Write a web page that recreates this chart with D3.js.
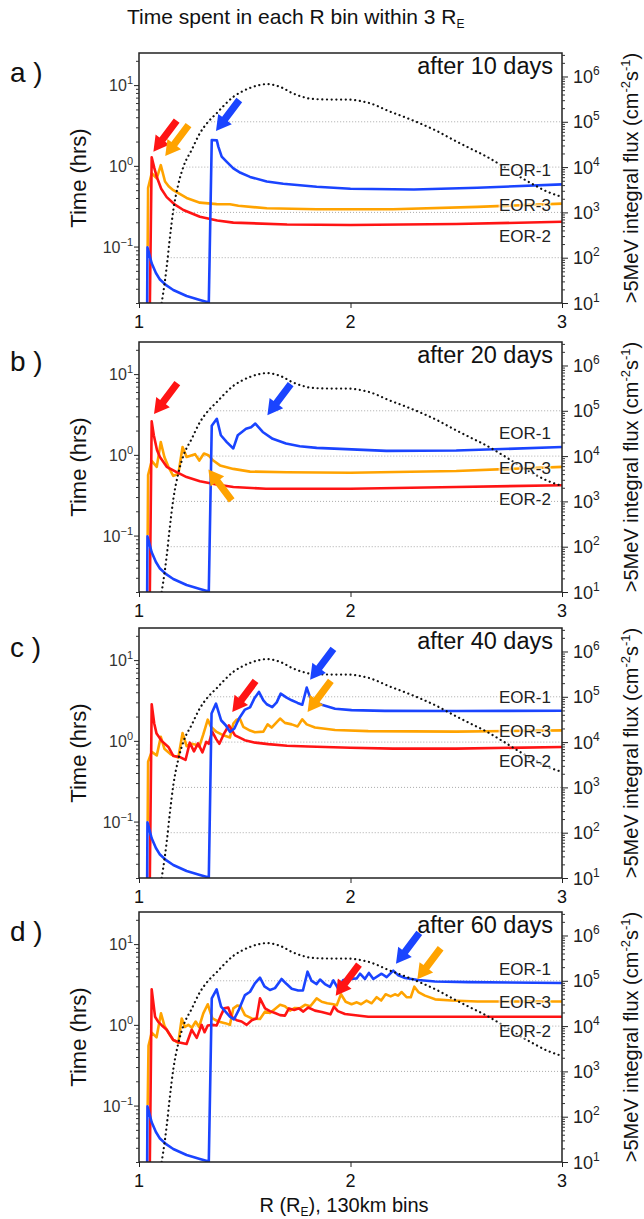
<!DOCTYPE html>
<html>
<head>
<meta charset="utf-8">
<script src="https://cdn.jsdelivr.net/npm/d3@7"></script>
<style>
body { margin: 0; background: #fff; }
svg { display: block; font-family: "Liberation Sans", Arial, sans-serif; }
</style>
</head>
<body>
<script>
// >5MeV integral flux (dotted curve), same in all panels: [R, flux]
var flux = [[1.107,10],[1.12,25],[1.131,63],[1.145,250],[1.162,1100],[1.185,4000],[1.21,1.02e4],[1.249,2.4e4],
    [1.288,5.6e4],[1.327,1.0e5],[1.367,1.54e5],[1.406,2.4e5],[1.446,3.57e5],[1.485,4.6e5],[1.525,5.6e5],
    [1.565,6.4e5],[1.604,6.8e5],[1.643,6.4e5],[1.682,5.5e5],[1.72,4.4e5],[1.761,3.7e5],[1.8,3.3e5],
    [1.84,3.15e5],[1.9,3.1e5],[1.96,3.1e5],[2.013,3.05e5],[2.05,2.85e5],[2.092,2.56e5],[2.13,2.2e5],
    [2.171,1.8e5],[2.25,1.3e5],[2.329,9.2e4],[2.41,6.2e4],[2.486,4.0e4],[2.565,2.6e4],[2.644,1.7e4],
    [2.72,1.05e4],[2.801,6.1e3],[2.87,4.0e3],[2.928,2.9e3],[3.0,2.2e3]];

// EOR-1 inner part (same in every panel): [R, hrs]
var eor1Inner = [[1.038,0.01],[1.04,0.098],[1.06,0.062],[1.08,0.047],[1.099,0.039],[1.13,0.033],[1.162,0.029],
    [1.225,0.0244],[1.288,0.0218],[1.33,0.0203]];

// after 10 days
var eor1_10 = [[1.344,2.09],[1.368,2.07],[1.375,1.73],[1.391,1.3],[1.415,1.12],[1.446,0.93],[1.48,0.82],[1.525,0.73],
    [1.604,0.64],[1.682,0.6],[1.84,0.55],[2.0,0.52],[2.3,0.51],[2.6,0.535],[3.0,0.59]];
var eor2_10 = [[1.05,0.01],[1.06,1.28],[1.072,0.95],[1.084,0.73],[1.105,0.52],[1.131,0.41],[1.17,0.33],[1.21,0.284],
    [1.288,0.234],[1.37,0.21],[1.446,0.198],[1.7,0.188],[2.0,0.185],[2.5,0.19],[3.0,0.203]];
var eor3_10 = [[1.041,0.1],[1.043,0.53],[1.06,0.81],[1.084,0.70],[1.103,1.02],[1.123,0.64],[1.14,0.56],[1.162,0.50],
    [1.225,0.40],[1.288,0.35],[1.367,0.336],[1.43,0.335],[1.47,0.32],[1.604,0.298],[1.84,0.29],[2.2,0.29],
    [2.6,0.31],[3.0,0.34]];

// after 20 days
var eor1_20 = [[1.344,2.3],[1.368,2.8],[1.387,1.75],[1.415,1.44],[1.446,1.2],[1.467,1.75],[1.506,2.1],[1.53,2.2],
    [1.55,2.44],[1.585,1.92],[1.632,1.58],[1.695,1.38],[1.76,1.28],[1.84,1.22],[2.17,1.12],[2.5,1.13],[3.0,1.25]];
var eor2_20 = [[1.05,0.01],[1.06,2.6],[1.07,1.75],[1.085,1.15],[1.099,0.94],[1.131,0.71],[1.178,0.61],[1.225,0.53],
    [1.288,0.47],[1.367,0.43],[1.446,0.40],[1.6,0.38],[2.0,0.38],[2.5,0.4],[3.0,0.42]];
var eor3_20 = [[1.041,0.1],[1.043,0.56],[1.06,0.84],[1.084,0.71],[1.103,1.44],[1.12,0.94],[1.139,0.71],[1.162,0.55],
    [1.186,0.58],[1.206,1.25],[1.225,0.94],[1.265,1.02],[1.285,0.85],[1.307,1.04],[1.328,0.99],[1.351,0.85],
    [1.383,0.74],[1.446,0.67],[1.525,0.62],[1.7,0.61],[2.0,0.6],[2.5,0.63],[3.0,0.71]];

// after 40 days
var eor1_40 = [[1.343,2.18],[1.364,2.89],[1.388,1.8],[1.41,1.56],[1.43,1.29],[1.451,1.42],[1.473,1.89],[1.501,2.44],
    [1.525,2.6],[1.545,3.34],[1.567,4.04],[1.588,3.18],[1.604,2.84],[1.63,2.62],[1.651,3.0],[1.67,3.85],
    [1.698,3.43],[1.722,3.18],[1.75,2.95],[1.772,2.8],[1.793,4.57],[1.808,3.5],[1.832,3.0],[1.864,2.8],
    [1.927,2.5],[2.005,2.4],[2.163,2.35],[2.5,2.34],[3.0,2.36]];
var eor2_40 = [[1.05,0.01],[1.06,2.84],[1.072,1.64],[1.083,1.23],[1.107,1.0],[1.139,0.84],[1.162,0.65],[1.194,0.63],
    [1.22,0.58],[1.24,0.95],[1.26,0.74],[1.279,0.93],[1.3,0.72],[1.318,0.97],[1.33,0.92],[1.346,1.3],[1.365,1.05],
    [1.38,0.92],[1.4,1.2],[1.425,1.56],[1.454,1.17],[1.5,1.02],[1.55,0.95],[1.611,0.91],[1.7,0.87],[1.8,0.85],
    [2.0,0.82],[2.2,0.8],[2.5,0.8],[3.0,0.84]];
var eor3_40 = [[1.041,0.1],[1.043,0.55],[1.06,0.73],[1.084,0.66],[1.103,1.12],[1.12,0.8],[1.15,0.68],[1.186,0.62],
    [1.206,1.25],[1.225,0.86],[1.245,0.92],[1.265,0.9],[1.285,0.85],[1.304,1.2],[1.325,1.83],[1.34,1.5],
    [1.367,1.29],[1.399,1.17],[1.43,1.1],[1.446,1.64],[1.462,1.83],[1.477,1.88],[1.493,1.49],[1.525,1.34],
    [1.548,1.28],[1.588,1.3],[1.608,1.6],[1.627,1.46],[1.667,1.89],[1.69,1.67],[1.722,1.6],[1.75,1.51],
    [1.772,1.85],[1.793,1.6],[1.832,1.46],[1.927,1.36],[2.084,1.32],[2.5,1.3],[3.0,1.35]];

// after 60 days
var eor1_60 = [[1.344,2.13],[1.367,2.75],[1.388,1.68],[1.41,1.45],[1.43,1.26],[1.449,1.17],[1.47,1.5],[1.501,2.34],
    [1.525,2.57],[1.548,3.27],[1.572,3.84],[1.593,3.0],[1.619,2.7],[1.643,2.85],[1.674,3.7],[1.698,3.2],
    [1.722,2.8],[1.753,2.66],[1.775,2.66],[1.797,4.56],[1.816,3.5],[1.84,3.2],[1.856,3.64],[1.879,3.2],
    [1.903,2.95],[1.919,3.56],[1.942,2.8],[1.966,3.6],[1.997,3.7],[2.029,3.76],[2.045,4.3],[2.068,3.7],
    [2.087,4.4],[2.108,3.7],[2.147,4.3],[2.171,3.9],[2.202,4.7],[2.226,4.1],[2.258,3.8],[2.32,3.6],[2.4,3.45],
    [2.557,3.38],[3.0,3.3]];
var eor2_60 = [[1.05,0.01],[1.06,2.75],[1.076,1.26],[1.091,1.09],[1.107,0.99],[1.131,0.87],[1.162,0.65],[1.186,0.61],
    [1.225,0.58],[1.249,0.87],[1.273,0.69],[1.296,1.0],[1.31,0.81],[1.325,0.98],[1.347,1.0],[1.367,0.98],
    [1.388,1.32],[1.403,1.6],[1.422,1.64],[1.438,1.26],[1.462,1.14],[1.485,1.1],[1.509,1.0],[1.533,1.14],
    [1.556,1.2],[1.572,2.13],[1.596,1.6],[1.619,1.48],[1.643,1.4],[1.667,1.32],[1.69,1.3],[1.709,1.6],
    [1.734,1.53],[1.756,1.6],[1.777,1.46],[1.8,1.64],[1.832,1.5],[1.864,1.44],[1.905,1.35],[1.922,1.68],
    [1.94,1.48],[1.974,1.36],[2.084,1.26],[2.242,1.26],[3.0,1.26]];
var eor3_60 = [[1.041,0.1],[1.045,0.55],[1.06,0.8],[1.083,0.7],[1.104,1.39],[1.12,0.98],[1.139,0.8],[1.162,0.65],
    [1.186,0.6],[1.202,1.2],[1.217,0.94],[1.233,1.0],[1.25,0.92],[1.268,1.1],[1.284,0.94],[1.304,1.39],
    [1.325,1.8],[1.347,1.2],[1.375,1.1],[1.407,1.05],[1.43,1.0],[1.446,1.6],[1.466,1.74],[1.48,1.7],[1.501,1.32],
    [1.533,1.2],[1.572,1.18],[1.596,1.46],[1.619,1.4],[1.643,1.57],[1.667,1.77],[1.69,1.7],[1.714,1.5],
    [1.737,1.62],[1.76,1.6],[1.785,1.77],[1.81,1.7],[1.84,2.13],[1.864,1.93],[1.89,1.85],[1.919,1.8],
    [1.935,1.75],[1.955,2.39],[1.977,1.93],[2.005,1.8],[2.03,1.9],[2.05,1.8],[2.076,2.0],[2.1,1.85],[2.124,2.2],
    [2.145,2.0],[2.166,2.39],[2.19,2.25],[2.21,2.39],[2.225,2.3],[2.242,2.55],[2.265,2.2],[2.285,2.2],
    [2.302,2.97],[2.321,2.55],[2.352,2.3],[2.4,2.07],[2.478,2.0],[2.6,1.95],[3.0,1.95]];

var panelLabels = ['a )', 'b )', 'c )', 'd )'];
var days = [10, 20, 40, 60];
var eor1 = [eor1Inner.concat(eor1_10), eor1Inner.concat(eor1_20), eor1Inner.concat(eor1_40), eor1Inner.concat(eor1_60)];
var eor2 = [eor2_10, eor2_20, eor2_40, eor2_60];
var eor3 = [eor3_10, eor3_20, eor3_40, eor3_60];

// arrow tips [series, R, hrs, points up]
var arrows = [
    [['eor2',1.068,1.5,false],['eor3',1.124,1.32,false],['eor1',1.364,2.7,false]],
    [['eor2',1.071,3.2,false],['eor1',1.607,3.1,false],['eor3',1.328,0.66,true]],
    [['eor2',1.441,2.28,false],['eor1',1.809,5.7,false],['eor3',1.797,2.28,false]],
    [['eor2',1.93,2.3,false],['eor1',2.215,5.7,false],['eor3',2.316,3.67,false]]
];

var rTicks = [1, 2, 3];
var timeTicks = [0.1, 1, 10];
var fluxTicks = [1e1, 1e2, 1e3, 1e4, 1e5, 1e6];

var colors = {eor1: '#1a44ff', eor2: '#ff1414', eor3: '#ffa300'};
var names = {eor1: 'EOR-1', eor2: 'EOR-2', eor3: 'EOR-3'};

var W = 644, H = 1219,
    left = 139, right = 562, ph = 250,
    tops = [53, 342, 628, 912];

var svg = d3.select('body').append('svg').attr('width', W).attr('height', H);
var x = d3.scaleLinear().domain([1, 3]).range([left, right]);

// title
var title = svg.append('text').attr('x', 127).attr('y', 24).style('font-size', '21px').attr('fill', '#111');
title.append('tspan').text('Time spent in each R bin within 3 R');
title.append('tspan').attr('dy', 4).style('font-size', '12px').text('E');

function riseCross(level) {
    for (var k = 1; k < flux.length; k++) {
        if (flux[k][1] >= level) {
            var a = flux[k - 1], b = flux[k];
            var t = (Math.log(level) - Math.log(a[1])) / (Math.log(b[1]) - Math.log(a[1]));
            return a[0] + t * (b[0] - a[0]);
        }
    }
    return null;
}

function exp(v) {
    var e = Math.round(Math.log10(v));
    return e < 0 ? '\u2212' + (-e) : '' + e;
}

tops.forEach(function(top, i) {
    var g = svg.append('g');
    var yT = d3.scaleLog().domain([0.02, 25]).range([top + ph, top]);
    var yF = d3.scaleLog().domain([10, 3.3e6]).range([top + ph, top]);
    var series = {eor1: eor1[i], eor2: eor2[i], eor3: eor3[i]};

    svg.append('clipPath').attr('id', 'clip' + i).append('rect')
        .attr('x', left).attr('y', top).attr('width', right - left).attr('height', ph);
    var inner = g.append('g').attr('clip-path', 'url(#clip' + i + ')');

    // grid lines at flux decades, from where the flux curve rises through them
    fluxTicks.forEach(function(level) {
        var r0 = riseCross(level);
        if (level <= 10 || r0 === null) return;
        inner.append('line')
            .attr('x1', x(r0)).attr('x2', right)
            .attr('y1', yF(level)).attr('y2', yF(level))
            .attr('stroke', '#aaa').attr('stroke-width', 1).attr('stroke-dasharray', '1,2');
    });

    var line = d3.line().x(function(d) { return x(d[0]); }).y(function(d) { return yT(d[1]); });
    ['eor3', 'eor2', 'eor1'].forEach(function(k) {
        inner.append('path').datum(series[k]).attr('d', line)
            .attr('fill', 'none').attr('stroke', colors[k]).attr('stroke-width', 2.6)
            .attr('stroke-linejoin', 'round');
    });

    var fline = d3.line().curve(d3.curveMonotoneX)
        .x(function(d) { return x(d[0]); }).y(function(d) { return yF(d[1]); });
    inner.append('path').datum(flux).attr('d', fline)
        .attr('fill', 'none').attr('stroke', '#111').attr('stroke-width', 2.2)
        .attr('stroke-dasharray', '0.1,4.6').attr('stroke-linecap', 'round');

    // series labels at right end
    var offs = {eor1: -8, eor3: 7, eor2: 20};
    ['eor1', 'eor3', 'eor2'].forEach(function(k) {
        var last = series[k][series[k].length - 1];
        g.append('text').attr('x', right - 11).attr('y', yT(last[1]) + offs[k])
            .attr('text-anchor', 'end').style('font-size', '17px').attr('fill', '#222')
            .attr('stroke', 'rgba(255,255,255,0.6)').attr('stroke-width', 3).attr('paint-order', 'stroke')
            .text(names[k]);
    });

    // arrows
    arrows[i].forEach(function(a) {
        var tx = x(a[1]), ty = yT(a[2]);
        var dx = -23.3, dy = a[3] ? -31 : 31;
        var len = Math.sqrt(dx * dx + dy * dy), ux = dx / len, uy = dy / len, nx = -uy, ny = ux;
        var sw = 3.6, hw = 8.5, hl = 15;
        var bx = tx - ux * len, by = ty - uy * len, kx = tx - ux * hl, ky = ty - uy * hl;
        var pts = [[bx + nx * sw, by + ny * sw], [kx + nx * sw, ky + ny * sw], [kx + nx * hw, ky + ny * hw], [tx, ty],
            [kx - nx * hw, ky - ny * hw], [kx - nx * sw, ky - ny * sw], [bx - nx * sw, by - ny * sw]];
        g.append('polygon').attr('points', pts.map(function(p) { return p.join(','); }).join(' '))
            .attr('fill', colors[a[0]]);
    });

    // box
    g.append('rect').attr('x', left).attr('y', top).attr('width', right - left).attr('height', ph)
        .attr('fill', 'none').attr('stroke', '#222').attr('stroke-width', 1.5);

    // left axis
    var minorT = yT.ticks().filter(function(v) { return timeTicks.indexOf(v) < 0; });
    g.append('g').attr('transform', 'translate(' + left + ',0)')
        .call(d3.axisLeft(yT).tickValues(minorT).tickSize(3).tickFormat(''))
        .call(function(s) { s.select('.domain').remove(); s.selectAll('line').attr('stroke', '#333'); });
    g.append('g').attr('transform', 'translate(' + left + ',0)')
        .call(d3.axisLeft(yT).tickValues(timeTicks).tickSize(5).tickFormat(''))
        .call(function(s) { s.select('.domain').remove(); s.selectAll('line').attr('stroke', '#222'); });
    timeTicks.forEach(function(v) {
        var t = g.append('text').attr('x', left - 6).attr('y', yT(v) + 6)
            .attr('text-anchor', 'end').style('font-size', '16px').attr('fill', '#333');
        t.append('tspan').text('10');
        t.append('tspan').attr('dy', -7).style('font-size', '11px').text(exp(v));
    });

    // right axis
    var minorF = yF.ticks().filter(function(v) { return fluxTicks.indexOf(v) < 0; });
    g.append('g').attr('transform', 'translate(' + right + ',0)')
        .call(d3.axisRight(yF).tickValues(minorF).tickSize(3).tickFormat(''))
        .call(function(s) { s.select('.domain').remove(); s.selectAll('line').attr('stroke', '#333'); });
    g.append('g').attr('transform', 'translate(' + right + ',0)')
        .call(d3.axisRight(yF).tickValues(fluxTicks).tickSize(6).tickFormat(''))
        .call(function(s) { s.select('.domain').remove(); s.selectAll('line').attr('stroke', '#222'); });
    fluxTicks.forEach(function(v) {
        var t = g.append('text').attr('x', right + 11).attr('y', yF(v) + 6.5)
            .style('font-size', '18px').attr('fill', '#222');
        t.append('tspan').text('10');
        t.append('tspan').attr('dy', -8).style('font-size', '12px').text(exp(v));
    });

    // bottom axis
    g.append('g').attr('transform', 'translate(0,' + (top + ph) + ')')
        .call(d3.axisBottom(x).tickValues(rTicks).tickSize(5).tickFormat(''))
        .call(function(s) { s.select('.domain').remove(); s.selectAll('line').attr('stroke', '#222'); });
    rTicks.forEach(function(r) {
        g.append('text').attr('x', x(r)).attr('y', top + ph + 25).attr('text-anchor', 'middle')
            .style('font-size', '18px').attr('fill', '#111').text(r);
    });

    // panel texts
    g.append('text').attr('x', 10).attr('y', top + 29).style('font-size', '28px').attr('fill', '#111')
        .text(panelLabels[i]);
    g.append('text').attr('x', right - 9).attr('y', top + 21).attr('text-anchor', 'end')
        .style('font-size', '23.5px').attr('fill', '#111').text('after ' + days[i] + ' days');
    g.append('text').attr('transform', 'translate(86,' + (top + ph / 2) + ') rotate(-90)')
        .attr('text-anchor', 'middle').style('font-size', '22px').attr('fill', '#111').text('Time (hrs)');
    var fl = g.append('text').attr('transform', 'translate(638,' + (top + ph / 2) + ') rotate(-90)')
        .attr('text-anchor', 'middle').style('font-size', '20px').attr('fill', '#111');
    fl.append('tspan').text('>5MeV integral flux (cm');
    fl.append('tspan').attr('dy', -8).style('font-size', '13px').text('-2');
    fl.append('tspan').attr('dy', 8).text('s');
    fl.append('tspan').attr('dy', -8).style('font-size', '13px').text('-1');
    fl.append('tspan').attr('dy', 8).text(')');
});

// x axis label
var xl = svg.append('text').attr('x', 344).attr('y', 1212).attr('text-anchor', 'middle')
    .style('font-size', '20px').attr('fill', '#111');
xl.append('tspan').text('R (R');
xl.append('tspan').attr('dy', 4).style('font-size', '12px').text('E');
xl.append('tspan').attr('dy', -4).text('), 130km bins');
</script>
</body>
</html>
